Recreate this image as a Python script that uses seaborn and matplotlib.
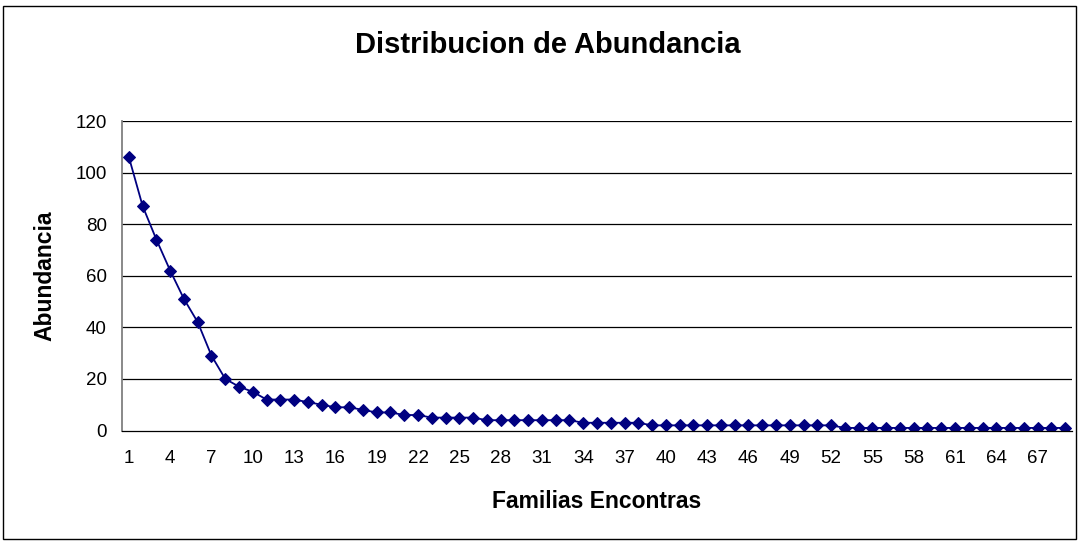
import numpy as np
import pandas as pd
import seaborn as sns
import matplotlib.pyplot as plt
from matplotlib.patches import Rectangle

# values
familias = list(range(1, 70))
abundancia = [106, 87, 74, 62, 51, 42, 29, 20, 17, 15,
              12, 12, 12, 11, 10, 9, 9, 8, 7, 7,
              6, 6, 5, 5, 5, 5, 4, 4, 4, 4,
              4, 4, 4, 3, 3, 3, 3, 3, 2, 2,
              2, 2, 2, 2, 2, 2, 2, 2, 2, 2,
              2, 2, 1, 1, 1, 1, 1, 1, 1, 1,
              1, 1, 1, 1, 1, 1, 1, 1, 1]
x_labels = list(range(1, 68, 3))
y_ticks = [0, 20, 40, 60, 80, 100, 120]

df = pd.DataFrame({'Familia': familias, 'Abundancia': abundancia})

sns.set_style('white')
plt.rcParams['font.family'] = ['Liberation Sans', 'DejaVu Sans']
plt.rcParams['text.color'] = 'black'
plt.rcParams['axes.labelcolor'] = 'black'
plt.rcParams['xtick.color'] = 'black'
plt.rcParams['ytick.color'] = 'black'

fig = plt.figure(figsize=(10.8, 5.43), dpi=100)
ax = fig.add_axes([122/1080, 1 - 430.5/543, 950/1080, 309.5/543])

sns.lineplot(data=df, x='Familia', y='Abundancia', ax=ax, color='#000080',
             marker='D', markersize=6.3, markeredgecolor='#000080', linewidth=1.3)

# limits and grid
ax.set_xlim(0.5, 69.5)
ax.set_ylim(0, 120)
ax.set_yticks(y_ticks)
for v in y_ticks[1:]:
    ax.axhline(v, color='black', linewidth=0.9, zorder=0)

# x ticks: labels at categories, tick marks between categories
ax.set_xticks(x_labels)
ax.set_xticks(np.arange(0.5, 70, 1), minor=True)
ax.tick_params(axis='x', which='major', length=0, pad=14, labelsize=13.5)
ax.tick_params(axis='x', which='minor', length=4, width=0.9, direction='out', color='black')
ax.tick_params(axis='y', length=4, width=0.9, direction='out', pad=7, labelsize=13.5, color='black')

ax.spines['top'].set_visible(False)
ax.spines['right'].set_visible(False)
ax.spines['left'].set_color('#808080')
ax.spines['left'].set_linewidth(1.3)
ax.spines['bottom'].set_color('black')
ax.spines['bottom'].set_linewidth(0.9)

ax.set_xlabel('Familias Encontras', fontsize=16.5, fontweight='bold', va='center')
ax.xaxis.set_label_coords(0.5, -0.231)
ax.set_ylabel('Abundancia', fontsize=16.5, fontweight='bold', va='center')
ax.yaxis.set_label_coords(-0.081, 0.5)

fig.suptitle('Distribucion de Abundancia', fontsize=21, fontweight='bold',
             x=548/1080, y=1 - 45/543, va='center')

# outer chart border
fig.patches.append(Rectangle((3/1080, 4/543), 1073/1080, 533/543, transform=fig.transFigure,
                             fill=False, edgecolor='black', linewidth=1))

fig.savefig('out.png', dpi=100)
plt.close()
